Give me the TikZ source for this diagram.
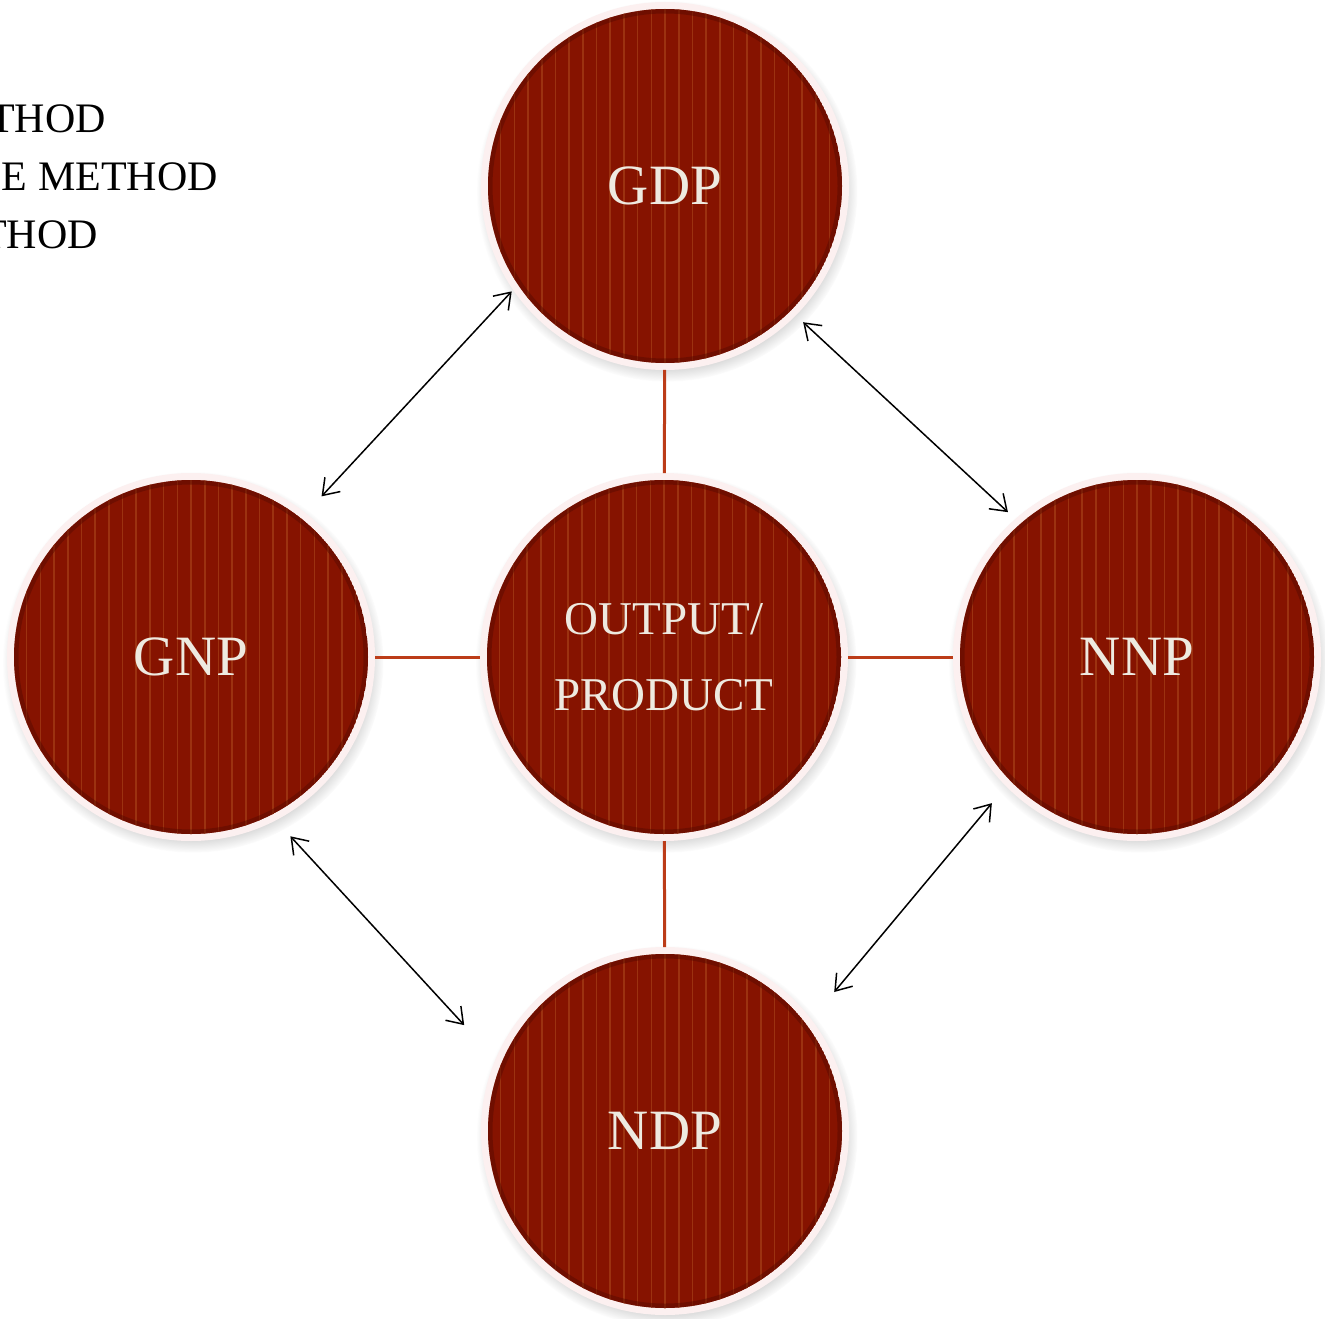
\documentclass[tikz,border=0pt]{standalone}
\usepackage{fontspec}
\setmainfont{Liberation Serif}
\usetikzlibrary{calc, shadows, arrows.meta}

\definecolor{discred}{HTML}{861300}
\definecolor{discstripe}{HTML}{9C3210}
\definecolor{discedge}{HTML}{5A0B00}
\definecolor{discrim}{HTML}{FCF0F0}
\definecolor{disctext}{HTML}{EEEAE0}
\definecolor{linkred}{HTML}{BC3C18}

\tikzset{
    disc/.style={circle, minimum size=368pt, inner sep=0pt, outer sep=0pt,
        fill=discrim, text=disctext, align=center,
        font=\fontsize{57}{60}\selectfont,
        circular drop shadow={shadow scale=1.035, shadow xshift=2pt, shadow yshift=-5pt, opacity=0.6},
        path picture={
            \begin{scope}
                \clip (path picture bounding box.center) circle (177pt);
                \fill[discred] (path picture bounding box.center) circle (177pt);
                \foreach \k in {-13,...,13}{
                    \draw[discstripe, line width=1.6pt] ($(path picture bounding box.center)+(\k*13.7pt,-190pt)$) -- ++(0pt,380pt);
                }
                \draw[discedge, line width=5pt, opacity=0.5] (path picture bounding box.center) circle (175pt);
            \end{scope}
        }},
    link/.style={linkred, line width=3pt},
    twoway/.style={{Straight Barb[length=15pt, width=21pt]}-{Straight Barb[length=15pt, width=21pt]}, line width=1.5pt, black},
    method/.style={anchor=base east, font=\fontsize{42}{46}\selectfont, text=black, inner sep=0pt}
}

\begin{document}
\begin{tikzpicture}[x=1pt, y=-1pt]
    \useasboundingbox (0,0) rectangle (1325,1319);

    % cut-off list at the top left
    \node[method] (m1) at (106,133) {THOD};
    \node[method] (m2) at (218,190) {E METHOD};
    \node[method] (m3) at (98,248) {THOD};

    % discs
    \node[disc] (gdp) at (665,186) {GDP};
    \node[disc, font=\fontsize{47}{76}\selectfont] (out) at (664,657) {OUTPUT/\\PRODUCT};
    \node[disc] (gnp) at (191,657) {GNP};
    \node[disc] (nnp) at (1137,657) {NNP};
    \node[disc] (ndp) at (665,1131) {NDP};

    % spokes
    \draw[link] (gdp) -- (out);
    \draw[link] (gnp) -- (out);
    \draw[link] (out) -- (nnp);
    \draw[link] (out) -- (ndp);

    % double arrows round the ring
    \draw[twoway] ($(gnp)+(50.9:207pt)$) -- ($(gdp)+(214.5:186pt)$);
    \draw[twoway] ($(gdp)+(-44.6:194pt)$) -- ($(nnp)+(131.7:194pt)$);
    \draw[twoway] ($(gnp)+(-61:205pt)$) -- ($(ndp)+(152.2:227pt)$);
    \draw[twoway] ($(nnp)+(-134.8:206pt)$) -- ($(ndp)+(39.4:219pt)$);
\end{tikzpicture}
\end{document}
